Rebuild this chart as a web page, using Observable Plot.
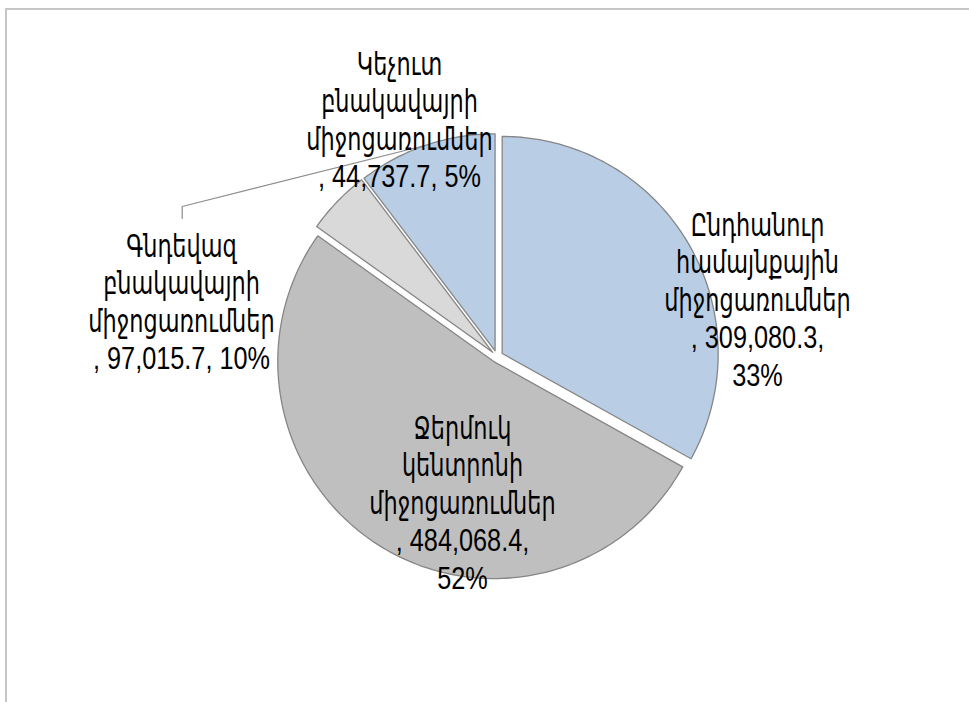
<!DOCTYPE html>
<html><head><meta charset="utf-8">
<script src="https://cdn.jsdelivr.net/npm/d3@7"></script>
<script src="https://cdn.jsdelivr.net/npm/@observablehq/plot@0.6"></script>
<style>
html,body{margin:0;padding:0;background:#fff;}
#chart{position:relative;width:969px;height:702px;overflow:hidden;background:#fff;}
#border{position:absolute;left:5px;top:8px;width:1000px;height:1000px;border-top:2px solid #c6c6c6;border-left:2px solid #c6c6c6;pointer-events:none;}
#chart svg{position:absolute;left:0;top:0;}
</style></head><body>
<div id="chart"><div id="border"></div></div>
<script>
// ---- data ----
const categories = [
  "Ընդհանուր համայնքային միջոցառումներ",
  "Ջերմուկ կենտրոնի միջոցառումներ",
  "Կեչուտ բնակավայրի միջոցառումներ",
  "Գնդեվազ բնակավայրի միջոցառումներ"
];
const values = [309080.3, 484068.4, 44737.7, 97015.7];

// ---- styles / layout ----
const sliceColors = ["#b9cde5", "#bfbfbf", "#d9d9d9", "#b9cde5"];
const explodeBy = [6, 6, 6, 6];
const W = 969, H = 702;
const cx = 496.5, cy = 356, rx = 216, ry = 217;
// label anchor (center x, first baseline y), and whether percent wraps to its own line
const labelLayout = [
  {x: 757, y: 235, wrapPct: true},
  {x: 462, y: 438, wrapPct: true},
  {x: 399, y: 74, wrapPct: false},
  {x: 181, y: 256, wrapPct: false}
];
const lineStep = 37.6;
const leaderFrom = [null, null, null, [{x: 181.7, y: 218}, {x: 181.7, y: 206}]];
const fontSize = 32, squeezeLatin = 0.79, squeezeArmenian = 0.70;

const rows = categories.map((c, i) => ({key: i, category: c, value: values[i]}));
const total = d3.sum(values);
const arcs = d3.pie().sort(null).value(d => d.value)(rows);

const slicePolys = arcs.map((a, i) => {
  const mid = (a.startAngle + a.endAngle) / 2;
  const e = explodeBy[i];
  const ox = cx + e * Math.sin(mid), oy = cy - e * Math.cos(mid);
  const pts = [{x: ox, y: oy}];
  const n = Math.max(8, Math.ceil((a.endAngle - a.startAngle) / (Math.PI / 180)));
  for (let k = 0; k <= n; ++k) {
    const t = a.startAngle + (a.endAngle - a.startAngle) * k / n;
    pts.push({x: ox + rx * Math.sin(t), y: oy - ry * Math.cos(t)});
  }
  return {pts, mid, ox, oy, color: sliceColors[i]};
});

const fmt = d3.format(",.1f");
const lines = [];
rows.forEach((d, i) => {
  const pct = Math.round(d.value / total * 100);
  const L = labelLayout[i];
  const parts = d.category.split(" ");
  const valueText = ", " + fmt(d.value) + ",";
  if (L.wrapPct) parts.push(valueText, pct + "%");
  else parts.push(valueText + " " + pct + "%");
  parts.forEach((t, j) => lines.push({
    x: L.x, y: L.y + j * lineStep, text: t,
    armenian: /[\u0530-\u058F]/.test(t)
  }));
});

const leaders = [];
slicePolys.forEach((s, i) => {
  if (!leaderFrom[i]) return;
  leaderFrom[i].forEach(p => leaders.push({key: i, x: p.x, y: p.y}));
  leaders.push({key: i, x: s.ox + rx * Math.sin(s.mid), y: s.oy - ry * Math.cos(s.mid)});
});

const marks = [];
slicePolys.forEach(s => {
  marks.push(Plot.line(s.pts, {x: "x", y: "y", fill: s.color, stroke: "#868686", strokeWidth: 1.3, curve: "linear-closed"}));
});
marks.push(Plot.line(leaders, {x: "x", y: "y", z: "key", stroke: "#8c8c8c", strokeWidth: 1.2}));
const textOpts = {
  x: "x", y: "y", text: "text", fontSize, lineAnchor: "bottom", textAnchor: "middle",
  fill: "#000", fontFamily: "'Liberation Sans', 'DejaVu Sans', Arial, sans-serif"
};
marks.push(Plot.text(lines.filter(d => d.armenian), {...textOpts, className: "lab-arm"}));
marks.push(Plot.text(lines.filter(d => !d.armenian), {...textOpts, className: "lab-lat"}));

const svg = Plot.plot({
  width: W, height: H,
  margin: 0,
  x: {domain: [0, W], range: [0, W], axis: null},
  y: {domain: [0, H], range: [0, H], axis: null},
  style: {background: "transparent", overflow: "visible"},
  marks
});
document.getElementById("chart").appendChild(svg);

// horizontally condense label text (reference text is narrow)
function squeeze(sel, s) {
  svg.querySelectorAll(sel).forEach(t => {
    const tr = t.getAttribute("transform") || "";
    if (/translate/.test(tr)) t.setAttribute("transform", tr + ` scale(${s},1)`);
    else {
      const x = +t.getAttribute("x") || 0;
      t.setAttribute("transform", `translate(${x},0) scale(${s},1) translate(${-x},0)`);
    }
  });
}
squeeze(".lab-arm text", squeezeArmenian);
squeeze(".lab-lat text", squeezeLatin);
</script>
</body></html>
